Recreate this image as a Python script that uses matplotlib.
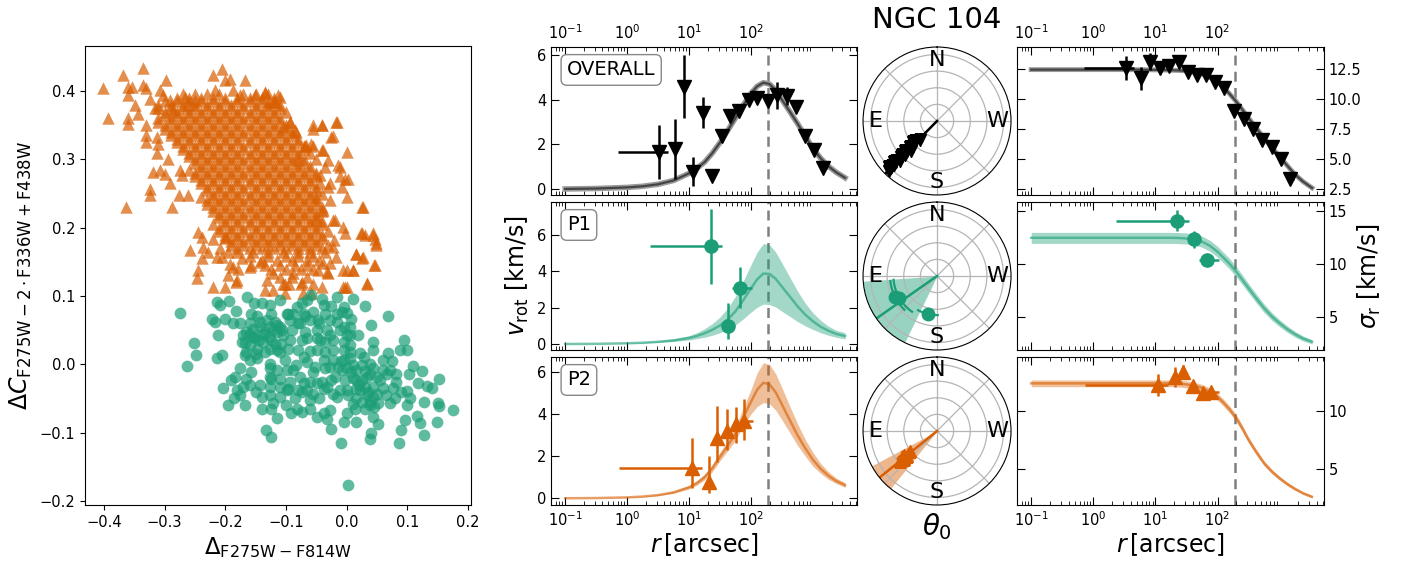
import numpy as np
import matplotlib.pyplot as plt

GREEN = "#1b9e77"
ORANGE = "#d95f02"
DARK = "#444444"
DASH = "#808080"

# ---------------- left panel: chromosome-map style scatter ----------------
orange_pts = [
    (-0.401, 0.404), (-0.394, 0.360), (-0.369, 0.423), (-0.363, 0.230), (-0.335, 0.434),
    (-0.361, 0.406), (-0.354, 0.406), (-0.361, 0.394), (-0.360, 0.360), (-0.360, 0.352),
    (-0.349, 0.380), (-0.343, 0.367), (-0.335, 0.409), (-0.330, 0.404), (-0.330, 0.350),
    (-0.330, 0.335), (-0.330, 0.326), (-0.324, 0.389), (-0.316, 0.375), (-0.313, 0.333),
    (-0.310, 0.323), (-0.313, 0.309), (-0.319, 0.282), (-0.324, 0.257), (-0.324, 0.248),
    (-0.297, 0.416), (-0.308, 0.401), (-0.302, 0.394), (-0.291, 0.387), (-0.286, 0.372),
    (-0.294, 0.301), (-0.308, 0.284), (-0.299, 0.279), (-0.291, 0.265), (-0.288, 0.231),
    (-0.275, 0.284), (-0.272, 0.277), (-0.277, 0.248), (-0.261, 0.248), (-0.266, 0.392),
    (-0.250, 0.387), (-0.261, 0.379), (-0.220, 0.423), (-0.205, 0.432), (-0.192, 0.418),
    (-0.201, 0.416), (-0.168, 0.416), (-0.217, 0.401), (-0.187, 0.401), (-0.176, 0.394),
    (-0.151, 0.394), (-0.135, 0.399), (-0.113, 0.394), (-0.118, 0.384), (-0.129, 0.384),
    (-0.245, 0.194), (-0.239, 0.187), (-0.258, 0.167), (-0.220, 0.184), (-0.236, 0.172),
    (-0.228, 0.165), (-0.239, 0.155), (-0.209, 0.170), (-0.198, 0.187), (-0.195, 0.165),
    (-0.245, 0.138), (-0.247, 0.126), (-0.206, 0.157), (-0.192, 0.147), (-0.173, 0.155),
    (-0.157, 0.145), (-0.195, 0.130), (-0.179, 0.140), (-0.220, 0.113), (-0.201, 0.113),
    (-0.182, 0.121), (-0.214, 0.157), (-0.187, 0.143), (-0.160, 0.143), (-0.143, 0.150),
    (-0.132, 0.123), (-0.121, 0.133), (-0.135, 0.109), (-0.121, 0.109), (-0.105, 0.118),
    (-0.102, 0.104), (-0.088, 0.133), (-0.074, 0.121), (-0.072, 0.104), (-0.058, 0.104),
    (-0.055, 0.118), (-0.041, 0.113), (-0.031, 0.133), (-0.006, 0.113), (0.000, 0.113),
    (0.011, 0.138), (0.016, 0.162), (0.027, 0.157), (0.033, 0.118), (0.046, 0.145),
    (0.024, 0.192), (0.030, 0.189), (0.044, 0.192), (0.046, 0.184), (0.049, 0.177),
    (0.027, 0.231), (0.000, 0.245), (0.002, 0.272), (-0.011, 0.289), (0.000, 0.311),
    (-0.017, 0.355), (-0.041, 0.350), (-0.055, 0.350), (-0.056, 0.345), (-0.025, 0.333),
    (-0.094, 0.355), (-0.085, 0.343), (-0.105, 0.348), (-0.110, 0.392), (-0.119, 0.384),
    (-0.135, 0.397), (-0.022, 0.211), (-0.006, 0.201), (-0.020, 0.182), (-0.036, 0.289),
    (-0.041, 0.314), (-0.055, 0.319), (-0.044, 0.265), (-0.031, 0.260), (-0.028, 0.240),
    (-0.011, 0.275), (-0.050, 0.245), (-0.069, 0.319), (-0.050, 0.301), (-0.039, 0.226),
    (-0.050, 0.211), (-0.022, 0.172), (-0.017, 0.157), (0.000, 0.138), (-0.039, 0.148),
    (-0.047, 0.138), (-0.093, 0.355), (-0.083, 0.340), (-0.040, 0.350), (-0.016, 0.354),
    (-0.023, 0.334), (-0.067, 0.321), (-0.058, 0.323), (-0.039, 0.314), (-0.030, 0.299),
    (-0.014, 0.292), (-0.080, 0.299), (-0.044, 0.277), (-0.027, 0.265), (-0.003, 0.272),
    (-0.008, 0.260), (0.026, 0.231), (-0.019, 0.211), (-0.003, 0.192), (0.025, 0.192),
    (0.044, 0.189), (0.048, 0.174), (0.016, 0.162), (0.026, 0.155), (0.045, 0.145),
    (0.033, 0.119), (-0.006, 0.138), (0.011, 0.138), (-0.003, 0.113), (-0.027, 0.148),
    (-0.033, 0.135), (-0.181, 0.123), (-0.102, 0.118),
]

# dense core of the orange population, read row by row (y, x positions)
orange_core = [
    (0.395, [-0.27, -0.25, -0.23, -0.21, -0.17, -0.15, -0.13]),
    (0.39, [-0.28, -0.26, -0.24, -0.22, -0.20, -0.18, -0.16, -0.14, -0.12]),
    (0.385, [-0.30, -0.28, -0.26, -0.24, -0.22, -0.20, -0.18, -0.16, -0.14, -0.12]),
    (0.38, [-0.31, -0.29, -0.27, -0.25, -0.23, -0.21, -0.19, -0.17, -0.15, -0.13, -0.11]),
    (0.375, [-0.31, -0.29, -0.27, -0.25, -0.23, -0.21, -0.19, -0.17, -0.15, -0.13, -0.11]),
    (0.37, [-0.30, -0.28, -0.26, -0.24, -0.22, -0.20, -0.18, -0.16, -0.14, -0.12, -0.10]),
    (0.365, [-0.30, -0.28, -0.26, -0.24, -0.22, -0.20, -0.18, -0.16, -0.14, -0.12]),
    (0.36, [-0.31, -0.29, -0.27, -0.25, -0.23, -0.21, -0.19, -0.17, -0.15, -0.13, -0.11]),
    (0.355, [-0.31, -0.29, -0.27, -0.25, -0.23, -0.21, -0.19, -0.17, -0.15, -0.13, -0.11]),
    (0.35, [-0.30, -0.28, -0.26, -0.24, -0.22, -0.20, -0.18, -0.16, -0.14, -0.12, -0.10]),
    (0.345, [-0.30, -0.28, -0.26, -0.24, -0.22, -0.20, -0.18, -0.16, -0.14, -0.12, -0.10]),
    (0.34, [-0.29, -0.27, -0.25, -0.23, -0.21, -0.19, -0.17, -0.15, -0.13, -0.11, -0.09]),
    (0.335, [-0.29, -0.27, -0.25, -0.23, -0.21, -0.19, -0.17, -0.15, -0.13, -0.11, -0.09]),
    (0.33, [-0.28, -0.26, -0.24, -0.22, -0.20, -0.18, -0.16, -0.14, -0.12, -0.10, -0.08]),
    (0.325, [-0.28, -0.26, -0.24, -0.22, -0.20, -0.18, -0.16, -0.14, -0.12, -0.10, -0.08]),
    (0.32, [-0.27, -0.25, -0.23, -0.21, -0.19, -0.17, -0.15, -0.13, -0.11, -0.09, -0.07]),
    (0.315, [-0.27, -0.25, -0.23, -0.21, -0.19, -0.17, -0.15, -0.13, -0.11, -0.09, -0.07]),
    (0.31, [-0.26, -0.24, -0.22, -0.20, -0.18, -0.16, -0.14, -0.12, -0.10, -0.08, -0.06]),
    (0.305, [-0.26, -0.24, -0.22, -0.20, -0.18, -0.16, -0.14, -0.12, -0.10, -0.08]),
    (0.30, [-0.25, -0.23, -0.21, -0.19, -0.17, -0.15, -0.13, -0.11, -0.09, -0.07]),
    (0.295, [-0.25, -0.23, -0.21, -0.19, -0.17, -0.15, -0.13, -0.11, -0.09, -0.07]),
    (0.29, [-0.24, -0.22, -0.20, -0.18, -0.16, -0.14, -0.12, -0.10, -0.08, -0.06]),
    (0.285, [-0.26, -0.24, -0.22, -0.20, -0.18, -0.16, -0.14, -0.12, -0.10, -0.08, -0.06]),
    (0.28, [-0.25, -0.23, -0.21, -0.19, -0.17, -0.15, -0.13, -0.11, -0.09, -0.07, -0.05]),
    (0.275, [-0.25, -0.23, -0.21, -0.19, -0.17, -0.15, -0.13, -0.11, -0.09, -0.07, -0.05]),
    (0.27, [-0.24, -0.22, -0.20, -0.18, -0.16, -0.14, -0.12, -0.10, -0.08, -0.06]),
    (0.265, [-0.24, -0.22, -0.20, -0.18, -0.16, -0.14, -0.12, -0.10, -0.08, -0.06]),
    (0.26, [-0.23, -0.21, -0.19, -0.17, -0.15, -0.13, -0.11, -0.09, -0.07, -0.05]),
    (0.255, [-0.23, -0.21, -0.19, -0.17, -0.15, -0.13, -0.11, -0.09, -0.07, -0.05]),
    (0.25, [-0.22, -0.20, -0.18, -0.16, -0.14, -0.12, -0.10, -0.08, -0.06, -0.04]),
    (0.245, [-0.24, -0.22, -0.20, -0.18, -0.16, -0.14, -0.12, -0.10, -0.08, -0.06]),
    (0.24, [-0.23, -0.21, -0.19, -0.17, -0.15, -0.13, -0.11, -0.09, -0.07, -0.05]),
    (0.235, [-0.23, -0.21, -0.19, -0.17, -0.15, -0.13, -0.11, -0.09, -0.07, -0.05]),
    (0.23, [-0.22, -0.20, -0.18, -0.16, -0.14, -0.12, -0.10, -0.08, -0.06, -0.04]),
    (0.225, [-0.22, -0.20, -0.18, -0.16, -0.14, -0.12, -0.10, -0.08, -0.06, -0.04]),
    (0.22, [-0.21, -0.19, -0.17, -0.15, -0.13, -0.11, -0.09, -0.07, -0.05]),
    (0.215, [-0.21, -0.19, -0.17, -0.15, -0.13, -0.11, -0.09, -0.07, -0.05]),
    (0.21, [-0.20, -0.18, -0.16, -0.14, -0.12, -0.10, -0.08, -0.06, -0.04]),
    (0.205, [-0.22, -0.20, -0.18, -0.16, -0.14, -0.12, -0.10, -0.08, -0.06, -0.04]),
    (0.20, [-0.21, -0.19, -0.17, -0.15, -0.13, -0.11, -0.09, -0.07, -0.05]),
    (0.195, [-0.21, -0.19, -0.17, -0.15, -0.13, -0.11, -0.09, -0.07, -0.05, -0.03]),
    (0.19, [-0.20, -0.18, -0.16, -0.14, -0.12, -0.10, -0.08, -0.06, -0.04]),
    (0.185, [-0.20, -0.18, -0.16, -0.14, -0.12, -0.10, -0.08, -0.06, -0.04]),
    (0.18, [-0.19, -0.17, -0.15, -0.13, -0.11, -0.09, -0.07, -0.05]),
    (0.175, [-0.19, -0.17, -0.15, -0.13, -0.11, -0.09, -0.07, -0.05, -0.03]),
    (0.17, [-0.18, -0.16, -0.14, -0.12, -0.10, -0.08, -0.06, -0.04]),
    (0.165, [-0.18, -0.155, -0.13, -0.105, -0.08, -0.06, -0.035]),
    (0.158, [-0.16, -0.13, -0.10, -0.08, -0.055]),
    (0.152, [-0.14, -0.115, -0.09, -0.065, -0.045]),
    (0.146, [-0.135, -0.11, -0.085, -0.065]),
    (0.14, [-0.125, -0.10, -0.075, -0.055]),
    (0.128, [-0.11, -0.09, -0.065]),
    (0.117, [-0.095, -0.075]),
]

green_pts = [
    (-0.274, 0.075), (-0.251, 0.031), (-0.248, 0.013), (-0.263, -0.002), (-0.213, 0.091),
    (-0.209, 0.087), (-0.193, 0.093), (-0.201, 0.066), (-0.222, 0.067), (-0.217, 0.062),
    (-0.212, 0.043), (-0.214, 0.009), (-0.206, 0.013), (-0.182, 0.078), (-0.164, 0.099),
    (-0.153, 0.090), (-0.157, 0.074), (-0.187, 0.060), (-0.176, 0.060), (-0.170, 0.043),
    (-0.168, 0.031), (-0.168, 0.013), (-0.159, 0.006), (-0.151, 0.038), (-0.143, 0.055),
    (-0.140, 0.089), (-0.126, 0.087), (-0.124, 0.074), (-0.132, 0.065), (-0.118, 0.062),
    (-0.110, 0.055), (-0.115, 0.048), (-0.104, 0.043), (-0.124, 0.035), (-0.135, 0.018),
    (-0.148, 0.009), (-0.126, 0.001), (-0.110, 0.018), (-0.102, 0.006), (-0.096, 0.023),
    (-0.093, 0.035), (-0.080, 0.021), (-0.096, 0.074), (-0.093, 0.065), (-0.082, 0.084),
    (-0.074, 0.089), (-0.077, 0.060), (-0.069, 0.048), (-0.069, 0.070), (-0.060, 0.065),
    (-0.055, 0.077), (-0.041, 0.096), (-0.038, 0.087), (-0.036, 0.074), (-0.049, 0.050),
    (-0.033, 0.050), (-0.027, 0.043), (-0.016, 0.074), (-0.016, 0.099), (-0.008, 0.077),
    (-0.005, 0.084), (0.011, 0.095), (0.030, 0.085), (0.008, 0.067), (0.005, 0.055),
    (-0.011, 0.050), (0.000, 0.043), (0.019, 0.043), (0.041, 0.057), (0.069, 0.070),
    (0.044, 0.033), (-0.044, 0.035), (-0.049, 0.021), (-0.036, 0.018), (-0.022, 0.021),
    (-0.005, 0.021), (0.005, 0.028), (0.005, 0.009), (0.011, -0.001), (-0.005, 0.006),
    (-0.022, 0.006), (-0.036, -0.006), (-0.055, -0.011), (-0.066, 0.004), (-0.083, -0.001),
    (-0.088, -0.008), (-0.077, -0.018), (-0.093, -0.026), (-0.096, -0.036), (-0.110, -0.033),
    (-0.124, -0.021), (-0.126, -0.033), (-0.143, -0.031), (-0.157, -0.011), (-0.176, -0.006),
    (-0.165, -0.021), (-0.184, -0.018), (-0.190, -0.023), (-0.203, -0.035), (-0.181, -0.038),
    (-0.176, -0.045), (-0.168, -0.060), (-0.140, -0.048), (-0.121, -0.057), (-0.124, -0.065),
    (-0.115, -0.079), (-0.133, -0.096), (-0.124, -0.106), (-0.091, -0.072), (-0.074, -0.070),
    (-0.082, -0.065), (-0.060, -0.053), (-0.055, -0.043), (-0.041, -0.026), (-0.049, -0.028),
    (-0.033, -0.033), (-0.025, -0.023), (-0.022, -0.043), (-0.011, -0.038), (0.003, -0.045),
    (-0.003, -0.023), (-0.008, -0.009), (0.008, -0.011), (0.016, -0.023), (0.025, -0.001),
    (0.028, 0.011), (0.039, 0.001), (0.044, 0.021), (0.039, -0.014), (0.030, -0.033),
    (0.044, -0.033), (0.055, -0.023), (0.050, -0.043), (0.039, -0.055), (0.039, -0.060),
    (0.052, -0.057), (0.016, -0.050), (0.014, -0.065), (0.000, -0.072), (-0.005, -0.084),
    (0.016, -0.084), (-0.027, -0.067), (-0.026, -0.095), (-0.033, -0.080), (-0.049, -0.077),
    (-0.010, -0.115), (0.003, -0.176), (0.044, -0.077), (0.052, -0.087), (0.041, -0.101),
    (0.039, -0.110), (0.071, -0.057), (0.060, 0.006), (0.069, 0.016), (0.071, -0.009),
    (0.082, -0.014), (0.088, 0.021), (0.094, 0.036), (0.099, 0.021), (0.082, -0.026),
    (0.077, -0.035), (0.102, -0.014), (0.110, -0.003), (0.124, -0.010), (0.100, -0.039),
    (0.118, -0.028), (0.133, -0.032), (0.140, -0.034), (0.153, -0.021), (0.100, -0.060),
    (0.127, -0.055), (0.151, -0.057), (0.153, -0.061), (0.175, -0.067), (0.116, -0.076),
    (0.121, -0.086), (0.149, -0.084), (0.128, -0.103), (0.089, -0.096), (0.086, -0.115),
    (0.096, -0.082), (0.060, -0.035), (0.066, -0.014), (-0.038, -0.072), (-0.066, -0.038),
    (-0.074, -0.040), (-0.060, -0.026), (-0.052, -0.004), (-0.038, 0.006), (-0.027, -0.004),
    (-0.014, -0.004), (-0.019, -0.018), (0.022, -0.038), (0.033, -0.045), (0.044, -0.048),
    (-0.049, 0.038), (-0.066, 0.038), (-0.074, 0.035), (-0.115, 0.057), (-0.107, 0.050),
    (-0.121, 0.050), (-0.126, 0.055), (-0.137, 0.045), (-0.154, 0.040), (-0.159, 0.028),
    (-0.148, 0.023), (-0.137, 0.033), (-0.126, 0.023), (-0.115, 0.021), (-0.126, -0.006),
    (-0.115, -0.008), (-0.099, -0.008), (-0.165, 0.018), (-0.173, 0.033), (-0.159, 0.060),
    (-0.148, 0.070), (-0.170, -0.033), (-0.159, -0.031), (-0.126, -0.018), (-0.110, -0.021),
    (-0.126, -0.045), (-0.110, -0.048), (-0.099, -0.038), (-0.080, -0.038), (-0.071, -0.028),
    (-0.038, -0.036), (-0.016, -0.048), (0.000, -0.038), (0.016, -0.036), (0.025, -0.023),
    (0.033, -0.018), (0.050, -0.018), (0.060, -0.009), (0.044, -0.006), (0.016, -0.009),
    (0.022, 0.016), (0.005, 0.018), (-0.005, 0.033), (0.005, 0.043), (-0.022, 0.035),
    (-0.036, 0.033), (-0.016, 0.062), (-0.027, 0.065), (-0.005, 0.055), (-0.047, 0.065),
    (-0.071, 0.074), (-0.066, 0.094), (-0.058, 0.101), (-0.110, 0.094), (-0.099, 0.074),
    (-0.088, 0.074), (-0.165, 0.048), (-0.155, 0.052), (-0.145, 0.035), (-0.135, 0.048),
    (-0.128, 0.040), (-0.118, 0.030), (-0.108, 0.030), (-0.142, 0.062), (-0.160, 0.045),
    (-0.150, 0.015), (-0.010, 0.005), (0.000, -0.005), (0.010, -0.020), (0.020, -0.030),
    (0.030, -0.010), (0.035, -0.040), (0.025, -0.055), (0.010, -0.058), (0.045, -0.062),
    (0.030, -0.065), (-0.060, 0.020), (-0.070, 0.010), (-0.045, -0.050), (-0.060, -0.065),
    (-0.085, -0.050), (-0.100, -0.060), (-0.140, -0.065), (-0.150, -0.040), (-0.185, -0.050),
    (-0.195, -0.060), (0.065, -0.045), (0.080, -0.050), (0.090, -0.040), (0.105, -0.050),
    (0.075, 0.005), (0.000, 0.075), (-0.025, 0.085), (-0.045, 0.060), (-0.090, 0.050),
    (-0.080, 0.060),
]

# ---------------- kinematic profiles ----------------
# model grid in log10(r / arcsec)
model_logr = [-1.0, -0.5, 0.0, 0.25, 0.5, 0.75, 1.0, 1.125, 1.25, 1.375, 1.5, 1.625, 1.75,
              1.875, 2.0, 2.1, 2.2, 2.3, 2.4, 2.5, 2.625, 2.75, 2.875, 3.0, 3.125, 3.25,
              3.375, 3.52]

vrot_all = [0.00, 0.02, 0.07, 0.12, 0.21, 0.38, 0.70, 0.92, 1.20, 1.60, 2.08, 2.62, 3.18,
            3.75, 4.28, 4.60, 4.76, 4.70, 4.42, 4.00, 3.48, 2.94, 2.38, 1.82, 1.38, 1.02,
            0.75, 0.50]
vrot_p1 = [0.00, 0.01, 0.04, 0.07, 0.12, 0.20, 0.33, 0.44, 0.59, 0.78, 1.02, 1.35, 1.80,
           2.40, 3.05, 3.55, 3.87, 3.85, 3.58, 3.15, 2.62, 2.08, 1.62, 1.25, 0.95, 0.73,
           0.56, 0.44]
vrot_p1_lo = [0.00, 0.01, 0.03, 0.05, 0.09, 0.14, 0.22, 0.29, 0.37, 0.48, 0.62, 0.80, 1.05,
              1.38, 1.75, 2.02, 2.19, 2.17, 2.03, 1.80, 1.52, 1.24, 1.00, 0.80, 0.62, 0.48,
              0.37, 0.28]
vrot_p1_hi = [0.00, 0.01, 0.05, 0.09, 0.16, 0.28, 0.46, 0.62, 0.84, 1.12, 1.48, 1.98, 2.62,
              3.45, 4.35, 5.05, 5.52, 5.45, 5.05, 4.45, 3.68, 2.92, 2.25, 1.72, 1.30, 0.98,
              0.76, 0.62]
vrot_p2 = [0.00, 0.01, 0.04, 0.08, 0.15, 0.28, 0.52, 0.72, 1.00, 1.42, 1.97, 2.50, 3.05,
           3.85, 4.57, 5.15, 5.48, 5.40, 5.02, 4.45, 3.72, 3.00, 2.38, 1.83, 1.40, 1.07,
           0.82, 0.62]
vrot_p2_lo = [0.00, 0.01, 0.03, 0.06, 0.12, 0.23, 0.44, 0.62, 0.87, 1.25, 1.78, 2.25, 2.75,
              3.45, 4.00, 4.35, 4.54, 4.48, 4.18, 3.72, 3.12, 2.52, 2.00, 1.52, 1.18, 0.90,
              0.70, 0.52]
vrot_p2_hi = [0.00, 0.01, 0.05, 0.10, 0.18, 0.33, 0.60, 0.82, 1.13, 1.60, 2.17, 2.75, 3.38,
              4.28, 5.15, 5.95, 6.43, 6.35, 5.90, 5.25, 4.38, 3.55, 2.80, 2.18, 1.65, 1.26,
              0.96, 0.74]

sig_all = [12.45, 12.45, 12.45, 12.45, 12.45, 12.44, 12.43, 12.42, 12.40, 12.38, 12.34,
           12.24, 12.08, 11.82, 11.45, 10.95, 10.40, 9.80, 9.12, 8.42, 7.58, 6.74, 5.95,
           5.22, 4.45, 3.72, 3.15, 2.62]
sig_p1 = [12.45, 12.45, 12.45, 12.45, 12.45, 12.45, 12.45, 12.45, 12.45, 12.43, 12.38,
          12.28, 12.08, 11.70, 11.13, 10.55, 9.95, 9.25, 8.48, 7.68, 6.72, 5.80, 5.02,
          4.38, 3.82, 3.34, 2.95, 2.64]
sig_p1_lo = [11.92, 11.92, 11.92, 11.92, 11.92, 11.92, 11.92, 11.92, 11.92, 11.90, 11.86,
             11.76, 11.56, 11.18, 10.62, 10.05, 9.45, 8.77, 8.02, 7.24, 6.30, 5.40, 4.65,
             4.05, 3.52, 3.07, 2.71, 2.44]
sig_p1_hi = [12.96, 12.96, 12.96, 12.96, 12.96, 12.96, 12.96, 12.96, 12.96, 12.94, 12.90,
             12.80, 12.60, 12.22, 11.64, 11.05, 10.45, 9.73, 8.94, 8.12, 7.14, 6.20, 5.39,
             4.71, 4.12, 3.61, 3.19, 2.84]
sig_p2 = [12.39, 12.39, 12.39, 12.39, 12.39, 12.39, 12.39, 12.39, 12.39, 12.37, 12.30,
          12.18, 12.00, 11.68, 11.23, 10.70, 10.10, 9.40, 8.50, 7.50, 6.45, 5.49, 4.78,
          4.20, 3.70, 3.28, 2.92, 2.61]
sig_p2_lo = [12.10, 12.10, 12.10, 12.10, 12.10, 12.10, 12.10, 12.10, 12.10, 12.08, 12.00,
             11.88, 11.70, 11.38, 10.93, 10.40, 9.80, 9.10, 8.22, 7.25, 6.22, 5.28, 4.59,
             4.03, 3.55, 3.15, 2.80, 2.50]
sig_p2_hi = [12.68, 12.68, 12.68, 12.68, 12.68, 12.68, 12.68, 12.68, 12.68, 12.66, 12.60,
             12.48, 12.30, 11.98, 11.53, 11.00, 10.40, 9.70, 8.78, 7.75, 6.68, 5.70, 4.97,
             4.37, 3.85, 3.41, 3.04, 2.72]

# binned measurements
all_r = [3.3, 5.9, 8.3, 11.7, 16.6, 23.8, 33.6, 46.4, 64.6, 91.7, 125, 187, 264, 377, 525,
         742, 1040, 1466]
all_rlo = [0.72, 5.3, 7.5, 10.5, 15.0, 21.5, 30.5, 42.0, 58.5, 83.0, 113, 170, 240, 342,
           476, 672, 942, 1330]
all_rhi = [4.6, 6.5, 9.2, 12.9, 18.3, 26.2, 37.0, 51.2, 71.3, 101, 138, 206, 291, 416,
           579, 819, 1150, 1700]
all_v = [1.66, 1.78, 4.59, 0.77, 3.41, 0.59, 2.36, 3.26, 3.51, 4.00, 4.07, 3.95, 4.20, 4.15,
         3.66, 2.37, 1.73, 0.95]
all_verr = [1.2, 1.35, 1.4, 0.65, 0.7, 0.2, 0.25, 0.2, 0.15, 0.15, 0.15, 0.15, 0.6, 0.4,
            0.2, 0.2, 0.2, 0.2]
all_sig = [12.56, 11.73, 13.1, 12.6, 12.77, 13.1, 12.28, 12.0, 12.0, 11.45, 10.9, 9.04,
           8.35, 7.52, 6.6, 6.05, 5.0, 3.36]
all_sigerr = [1.0, 0.95, 0.7, 0.5, 0.4, 0.3, 0.2, 0.2, 0.2, 0.2, 0.2, 0.2, 0.2, 0.2, 0.2,
              0.2, 0.2, 0.2]
all_theta = [138, 133, 131, 136, 134, 139, 135, 133, 136, 134, 135, 137, 134, 133, 136, 135,
             134, 136]
all_theta_err = [6, 6, 5, 5, 4, 4, 3, 3, 3, 3, 3, 3, 3, 3, 3, 3, 3, 3]

p1_r = [22.4, 42.0, 66.5]
p1_rlo = [2.35, 38.0, 50.0]
p1_rhi = [34.4, 46.0, 105.0]
p1_v = [5.37, 0.99, 3.05]
p1_v_elo = [2.10, 0.72, 1.09]
p1_v_ehi = [2.06, 1.29, 1.19]
p1_sig = [14.06, 12.33, 10.35]
p1_sigerr = [1.0, 0.8, 0.6]
p1_theta = [166, 120, 116]
p1_theta_err = [15, 25, 20]

p2_r = [11.0, 21.0, 27.9, 40.6, 57.3, 78.0]
p2_rlo = [0.74, 19.5, 26.0, 37.0, 52.0, 66.0]
p2_rhi = [15.9, 22.5, 30.0, 44.0, 63.0, 107.0]
p2_v = [1.42, 0.79, 2.87, 3.18, 3.54, 3.65]
p2_v_elo = [0.95, 0.55, 1.14, 0.90, 0.94, 0.90]
p2_v_ehi = [1.46, 1.21, 1.51, 1.07, 0.81, 1.05]
p2_sig = [12.24, 12.96, 13.39, 12.16, 11.53, 11.66]
p2_sigerr = [0.95, 0.86, 0.6, 0.4, 0.3, 0.3]
p2_theta = [127, 130, 126, 131, 128, 129]
p2_theta_err = [4, 6, 5, 5, 4, 4]

# position angle of the rotation axis: best value and band (deg, N through E)
theta0 = {"all": (135.5, 134.0, 137.0), "p1": (125.0, 94.0, 154.0), "p2": (129.0, 118.0, 141.0)}
r_break = 190.0


def kin_axis(ax, ylim, yticks):
    ax.set_xscale("log")
    ax.set_xlim(0.059, 5150)
    ax.set_ylim(*ylim)
    ax.set_xticks([0.1, 1, 10, 100])
    ax.set_yticks(yticks)
    ax.tick_params(which="both", direction="in", top=True, right=True,
                   labelbottom=False, labelsize=10.5)
    ax.tick_params(which="major", length=6)
    ax.tick_params(which="minor", length=3)
    ax.axvline(r_break, color=DASH, ls="--", lw=1.8, dashes=(4, 2.5), zorder=1)


def main():
    fig = plt.figure(figsize=(14.06, 5.65), dpi=100)

    # ---- scatter
    ax0 = fig.add_axes([0.0605, 0.1062, 0.2745, 0.8124])
    ox = [p[0] for p in orange_pts]
    oy = [p[1] for p in orange_pts]
    for y, xs in orange_core:
        ox += xs
        oy += [y] * len(xs)
    ax0.scatter(ox, oy, marker="^", s=80, color=ORANGE, alpha=0.7, lw=0)
    ax0.scatter([p[0] for p in green_pts], [p[1] for p in green_pts], marker="o", s=72,
                color=GREEN, alpha=0.7, lw=0)
    ax0.set_xlim(-0.431, 0.205)
    ax0.set_ylim(-0.206, 0.466)
    ax0.set_xticks([-0.4, -0.3, -0.2, -0.1, 0.0, 0.1, 0.2])
    ax0.set_yticks([-0.2, -0.1, 0.0, 0.1, 0.2, 0.3, 0.4])
    ax0.tick_params(labelsize=10.5)
    ax0.set_xlabel(r"$\Delta_{\rm F275W-F814W}$", fontsize=16.5)
    ax0.set_ylabel(r"$\Delta C_{\rm F275W-2\cdot F336W+F438W}$", fontsize=17)

    bottoms = [0.6549, 0.3805, 0.1062]
    h = 0.2619
    names = ["OVERALL", "P1", "P2"]

    r_mod = 10 ** np.array(model_logr)

    # ---- rotation column
    vax = [fig.add_axes([0.3919, b, 0.2176, h]) for b in bottoms]
    kin_axis(vax[0], (-0.27, 6.36), [0, 2, 4, 6])
    kin_axis(vax[1], (-0.33, 7.8), [0, 2, 4, 6])
    kin_axis(vax[2], (-0.32, 6.7), [0, 2, 4, 6])

    vax[0].plot(r_mod, vrot_all, color="#9a9a9a", lw=4.0, zorder=2)
    vax[0].plot(r_mod, vrot_all, color=DARK, lw=1.6, zorder=2)
    vax[0].errorbar(all_r, all_v, yerr=all_verr,
                    xerr=[np.subtract(all_r, all_rlo), np.subtract(all_rhi, all_r)],
                    fmt="v", color="black", ms=9.5, elinewidth=1.8, capsize=0, zorder=3)

    vax[1].fill_between(r_mod, vrot_p1_lo, vrot_p1_hi, color=GREEN, alpha=0.4, lw=0)
    vax[1].plot(r_mod, vrot_p1, color=GREEN, lw=1.8, alpha=0.6)
    vax[1].errorbar(p1_r, p1_v, yerr=[p1_v_elo, p1_v_ehi],
                    xerr=[np.subtract(p1_r, p1_rlo), np.subtract(p1_rhi, p1_r)],
                    fmt="o", color=GREEN, ms=9.5, elinewidth=1.8, capsize=0, zorder=3)

    vax[2].fill_between(r_mod, vrot_p2_lo, vrot_p2_hi, color=ORANGE, alpha=0.4, lw=0)
    vax[2].plot(r_mod, vrot_p2, color=ORANGE, lw=1.8, alpha=0.6)
    vax[2].errorbar(p2_r, p2_v, yerr=[p2_v_elo, p2_v_ehi],
                    xerr=[np.subtract(p2_r, p2_rlo), np.subtract(p2_rhi, p2_r)],
                    fmt="^", color=ORANGE, ms=9.5, elinewidth=1.8, capsize=0, zorder=3)

    vax[0].tick_params(labeltop=True)
    vax[2].tick_params(labelbottom=True)
    vax[1].set_ylabel(r"$v_{\rm rot}$ [km/s]", fontsize=17, labelpad=4)
    vax[2].set_xlabel(r"$r\,$[arcsec]", fontsize=17, labelpad=2)
    for ax, name in zip(vax, names):
        ax.text(0.052, 0.845, name, transform=ax.transAxes, fontsize=14, va="center",
                ha="left", bbox=dict(boxstyle="round,pad=0.3", fc="white", ec="#888888"))

    # ---- dispersion column
    sax = [fig.add_axes([0.7233, b, 0.2183, h]) for b in bottoms]
    kin_axis(sax[0], (2.03, 14.33), [2.5, 5.0, 7.5, 10.0, 12.5])
    kin_axis(sax[1], (1.86, 15.82), [5, 10, 15])
    kin_axis(sax[2], (1.9, 14.66), [5, 10])
    for ax in sax:
        ax.tick_params(labelleft=False, labelright=True)

    sax[0].plot(r_mod, sig_all, color="#9a9a9a", lw=3.5, zorder=2)
    sax[0].plot(r_mod, sig_all, color=DARK, lw=1.6, zorder=2)
    sax[0].errorbar(all_r, all_sig, yerr=all_sigerr,
                    xerr=[np.subtract(all_r, all_rlo), np.subtract(all_rhi, all_r)],
                    fmt="v", color="black", ms=9.5, elinewidth=1.8, capsize=0, zorder=3)

    sax[1].fill_between(r_mod, sig_p1_lo, sig_p1_hi, color=GREEN, alpha=0.4, lw=0)
    sax[1].plot(r_mod, sig_p1, color=GREEN, lw=1.8, alpha=0.6)
    sax[1].errorbar(p1_r, p1_sig, yerr=p1_sigerr,
                    xerr=[np.subtract(p1_r, p1_rlo), np.subtract(p1_rhi, p1_r)],
                    fmt="o", color=GREEN, ms=9.5, elinewidth=1.8, capsize=0, zorder=3)

    sax[2].fill_between(r_mod, sig_p2_lo, sig_p2_hi, color=ORANGE, alpha=0.4, lw=0)
    sax[2].plot(r_mod, sig_p2, color=ORANGE, lw=1.8, alpha=0.6)
    sax[2].errorbar(p2_r, p2_sig, yerr=p2_sigerr,
                    xerr=[np.subtract(p2_r, p2_rlo), np.subtract(p2_rhi, p2_r)],
                    fmt="^", color=ORANGE, ms=9.5, elinewidth=1.8, capsize=0, zorder=3)

    sax[0].tick_params(labeltop=True)
    sax[2].tick_params(labelbottom=True)
    sax[1].yaxis.set_label_position("right")
    sax[1].set_ylabel(r"$\sigma_{\rm r}$ [km/s]", fontsize=17, labelpad=6)
    sax[2].set_xlabel(r"$r\,$[arcsec]", fontsize=17, labelpad=2)

    # ---- position-angle column
    rmax = 4.45
    pol_sets = [
        ("all", all_r, all_theta, all_theta_err, "black", "v"),
        ("p1", p1_r, p1_theta, p1_theta_err, GREEN, "o"),
        ("p2", p2_r, p2_theta, p2_theta_err, ORANGE, "^"),
    ]
    for b, (key, rr, th, the, col, mk) in zip(bottoms, pol_sets):
        axp = fig.add_axes([0.6138, b, 0.1053, h], projection="polar")
        axp.set_theta_zero_location("N")
        axp.set_theta_direction(1)
        axp.set_rlim(0, rmax)
        axp.set_rticks([1, 2, 3, 4])
        axp.set_yticklabels([])
        axp.set_xticks(np.deg2rad(np.arange(0, 360, 45)))
        axp.set_xticklabels([])
        axp.grid(color="#b5b5b5", lw=0.9)
        for lab, ang in [("N", 0), ("E", 90), ("S", 180), ("W", 270)]:
            axp.text(np.deg2rad(ang), 0.82 * rmax, lab, fontsize=16, ha="center", va="center")
        best, lo, hi = theta0[key]
        tt = np.deg2rad(np.linspace(lo, hi, 60))
        if key != "all":
            axp.fill_between(tt, 0, rmax, color=col, alpha=0.45, lw=0)
        axp.plot([np.deg2rad(best)] * 2, [0, rmax], color=col, lw=1.8)
        rad = np.log10(rr) + 1
        for t, e, q in zip(th, the, rad):
            arc = np.deg2rad(np.linspace(t - e, t + e, 20))
            axp.plot(arc, [q] * len(arc), color=col, lw=1.6)
        axp.plot(np.deg2rad(th), rad, mk, color=col, ms=9, ls="none")

    fig.text(0.6664, 0.965, "NGC 104", fontsize=21, ha="center", va="center")
    fig.text(0.6664, 0.068, r"$\theta_0$", fontsize=20, ha="center", va="center")

    fig.savefig("out.png", dpi=100)


if __name__ == "__main__":
    main()
